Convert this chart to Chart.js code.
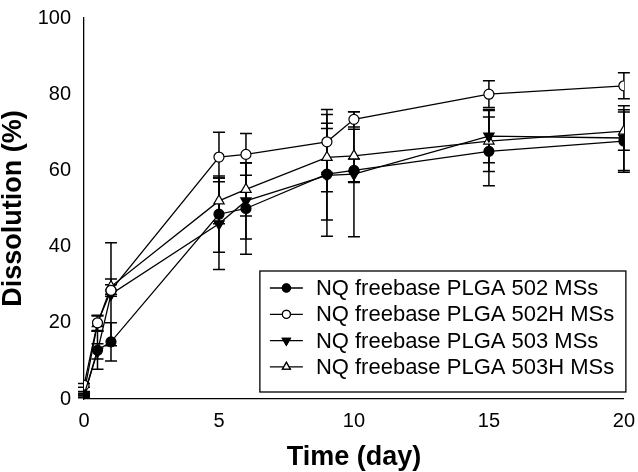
<!DOCTYPE html>
<html>
<head>
<meta charset="utf-8">
<script src="https://cdn.jsdelivr.net/npm/chart.js@4"></script>
<style>
  html, body { margin: 0; padding: 0; background: #fff; }
  #wrap { width: 638px; height: 472px; position: relative; }
</style>
</head>
<body>
<div id="wrap"><canvas id="c"></canvas></div>
<script>
const times = [0, 0.5, 1, 5, 6, 9, 10, 15, 20];
const xTicks = [0, 5, 10, 15, 20];
const yTicks = [0, 20, 40, 60, 80, 100];

const seriesNames = [
  'NQ freebase PLGA 502 MSs',
  'NQ freebase PLGA 502H MSs',
  'NQ freebase PLGA 503 MSs',
  'NQ freebase PLGA 503H MSs'
];

const val502  = [1.0, 12.8, 15.0, 48.5, 50.0, 59.0, 60.0, 65.0, 67.7];
const err502  = [0.5, 5.0, 5.0, 10.0, 12.0, 12.0, 3.0, 9.0, 8.2];
const val502H = [3.6, 20.0, 28.5, 63.5, 64.2, 67.5, 73.4, 80.0, 82.2];
const err502H = [0.5, 2.0, 1.5, 6.5, 5.5, 8.5, 2.0, 3.5, 3.4];
const val503  = [0.8, 12.5, 27.5, 46.0, 52.0, 58.7, 59.0, 69.0, 68.5];
const err503  = [0.5, 2.0, 13.5, 12.0, 10.0, 16.0, 16.4, 7.0, 8.5];
const val503H = [1.5, 19.8, 29.5, 52.0, 55.0, 63.4, 63.8, 67.7, 70.3];
const err503H = [0.5, 2.0, 2.0, 6.0, 7.0, 9.0, 7.0, 8.0, 5.0];

const values = [val502, val502H, val503, val503H];
const errors = [err502, err502H, err503, err503H];
const styles = [
  { pointStyle: 'circle',   fill: '#000', rot: 0,   r: 5 },
  { pointStyle: 'circle',   fill: '#fff', rot: 0,   r: 5 },
  { pointStyle: 'triangle', fill: '#000', rot: 180, r: 6 },
  { pointStyle: 'triangle', fill: '#fff', rot: 0,   r: 6 }
];

const FONT = "'Liberation Sans', Arial, Helvetica, sans-serif";

const datasets = values.map((v, i) => ({
  label: seriesNames[i],
  data: times.map((t, j) => ({ x: t, y: v[j] })),
  errs: errors[i],
  borderColor: '#000',
  borderWidth: 1.3,
  backgroundColor: styles[i].fill,
  pointStyle: styles[i].pointStyle,
  pointRotation: styles[i].rot,
  pointRadius: styles[i].r,
  pointBorderWidth: 1.2,
  pointBorderColor: '#000',
  pointBackgroundColor: styles[i].fill,
  tension: 0,
  fill: false
}));

const errorBars = {
  id: 'errorBars',
  beforeDatasetsDraw(chart) {
    const { ctx, scales: { x, y } } = chart;
    ctx.save();
    ctx.strokeStyle = '#000';
    ctx.lineWidth = 1.5;
    chart.data.datasets.forEach(ds => {
      ds.data.forEach((p, j) => {
        const e = ds.errs[j];
        const px = x.getPixelForValue(p.x);
        const yt = y.getPixelForValue(p.y + e);
        const yb = y.getPixelForValue(p.y - e);
        const cw = 6;
        ctx.beginPath();
        ctx.moveTo(px, yt); ctx.lineTo(px, yb);
        ctx.moveTo(px - cw, yt); ctx.lineTo(px + cw, yt);
        ctx.moveTo(px - cw, yb); ctx.lineTo(px + cw, yb);
        ctx.stroke();
      });
    });
    ctx.restore();
  }
};

const boxLegend = {
  id: 'boxLegend',
  afterDraw(chart) {
    const { ctx, chartArea } = chart;
    const left = chartArea.right - 364, top = chartArea.top + 253;
    const w = 366, h = 121;
    ctx.save();
    ctx.fillStyle = '#fff';
    ctx.fillRect(left, top, w, h);
    ctx.strokeStyle = '#000';
    ctx.lineWidth = 1.3;
    ctx.strokeRect(left, top, w, h);
    ctx.font = "22px " + FONT;
    ctx.textBaseline = 'middle';
    ctx.fillStyle = '#000';
    chart.data.datasets.forEach((ds, i) => {
      const cy = top + 17 + i * 26.3;
      ctx.beginPath();
      ctx.lineWidth = 1.3;
      ctx.moveTo(left + 10, cy); ctx.lineTo(left + 43, cy);
      ctx.stroke();
      const st = styles[i];
      const pr = st.pointStyle === 'circle' ? 4 : 4.5;
      Chart.helpers.drawPoint(ctx, {
        pointStyle: st.pointStyle, rotation: st.rot, radius: pr, borderWidth: 1.2
      }, left + 26.5, cy);
      ctx.fillStyle = st.fill;
      ctx.strokeStyle = '#000';
      ctx.lineWidth = 1.2;
      ctx.fill(); ctx.stroke();
      ctx.fillStyle = '#000';
      ctx.fillText(ds.label, left + 56, cy + 1);
    });
    ctx.restore();
  }
};

new Chart(document.getElementById('c'), {
  type: 'line',
  data: { datasets },
  options: {
    responsive: true,
    maintainAspectRatio: false,
    animation: false,
    layout: { padding: { top: 9, right: 12, left: 0, bottom: 0 } },
    plugins: { legend: { display: false }, tooltip: { enabled: false } },
    scales: {
      x: {
        type: 'linear',
        min: 0, max: 20,
        afterBuildTicks: s => { s.ticks = xTicks.map(v => ({ value: v })); },
        afterFit: s => { s.height = 73; },
        grid: { display: false, drawTicks: true, tickLength: 7, tickColor: '#000', tickWidth: 1.3 },
        border: { display: true, color: '#000', width: 1.3 },
        ticks: { color: '#000', font: { family: FONT, size: 20 }, padding: 3, maxRotation: 0 },
        title: { display: true, text: 'Time (day)', color: '#000',
                 font: { family: FONT, size: 27, weight: 'bold', lineHeight: 1 }, padding: { top: 0, bottom: 1 } }
      },
      y: {
        type: 'linear',
        min: 0, max: 100,
        afterBuildTicks: s => { s.ticks = yTicks.map(v => ({ value: v })); },
        afterFit: s => { s.width = 84; },
        grid: { display: false, drawTicks: true, tickLength: 7, tickColor: '#000', tickWidth: 1.3 },
        border: { display: true, color: '#000', width: 1.3 },
        ticks: { color: '#000', font: { family: FONT, size: 20 }, padding: 6 },
        title: { display: true, text: 'Dissolution (%)', color: '#000',
                 font: { family: FONT, size: 27, weight: 'bold', lineHeight: 1 }, padding: { top: 0, bottom: 0 } }
      }
    }
  },
  plugins: [errorBars, boxLegend]
});
</script>
</body>
</html>
